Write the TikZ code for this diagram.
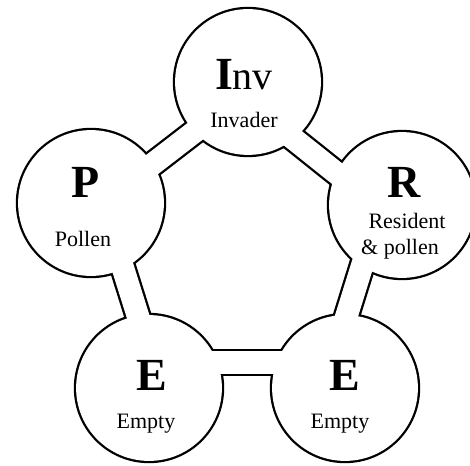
\documentclass[tikz,border=0pt]{standalone}
\usepackage{fontspec}
\setmainfont{Liberation Serif}
\usetikzlibrary{calc}
\begin{document}
\begin{tikzpicture}[x=1pt,y=-1pt,
    every node/.style={anchor=base,inner sep=0pt},
    letter/.style={font=\fontsize{46}{46}\selectfont\bfseries},
    word/.style={font=\fontsize{22}{22}\selectfont}]
  \useasboundingbox (0,0) rectangle (470,465);
  \path
    (248,82) coordinate (inv)
    (402,205) coordinate (res)
    (345,388) coordinate (empR)
    (149,388) coordinate (empL)
    (91,203) coordinate (pol);
  % outline pass, then white pass
  \foreach \wd/\rad/\col in {27pt/75.2pt/black,22.4pt/72.9pt/white} {
    \begin{scope}[line width=\wd, draw=\col]
      \draw ($(inv)!6.8pt!90:(pol)$) -- ($(pol)!6.8pt!-90:(inv)$);
      \draw ($(pol)!11pt!90:(empL)$) -- ($(empL)!11pt!-90:(pol)$);
      \draw ($(empL)!25.5pt!90:(empR)$) -- ($(empR)!25.5pt!-90:(empL)$);
      \draw ($(empR)!20pt!90:(res)$) -- ($(res)!20pt!-90:(empR)$);
      \draw ($(res)!16pt!90:(inv)$) -- ($(inv)!16pt!-90:(res)$);
    \end{scope}
    \foreach \nd in {inv,res,empR,empL,pol}
      \fill[\col] (\nd) circle (\rad);
  }
  \path
    (244,90) node[letter] (invA) {I\fontsize{40}{40}\selectfont\mdseries nv}
    (244,128) node[word] (invB) {Invader}
    (404,197) node[letter] (resA) {R}
    (407,228) node[word] (resB) {Resident}
    (400,254) node[word] (resC) {\& pollen}
    (86,197) node[letter] (polA) {P}
    (83,246) node[word] (polB) {Pollen}
    (152,390) node[letter] (empLA) {E}
    (146,428) node[word] (empLB) {Empty}
    (345,390) node[letter] (empRA) {E}
    (340,428) node[word] (empRB) {Empty};
\end{tikzpicture}
\end{document}
